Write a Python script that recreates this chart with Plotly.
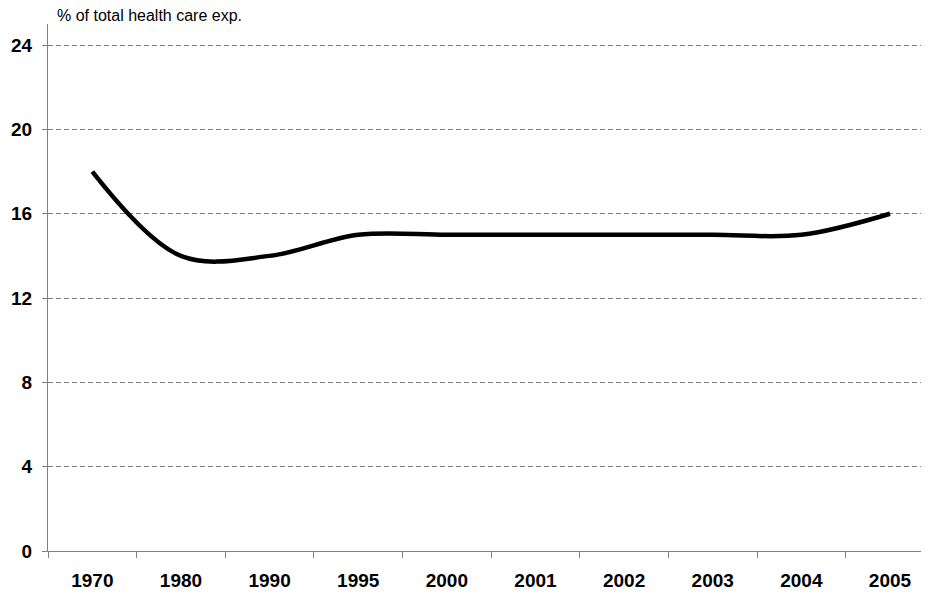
import plotly.graph_objects as go

years = ["1970", "1980", "1990", "1995", "2000", "2001", "2002", "2003", "2004", "2005"]
share = [18, 14, 14, 15, 15, 15, 15, 15, 15, 16]
y_ticks = [0, 4, 8, 12, 16, 20, 24]
y_title = "% of total health care exp."

FONT = "Arial, Liberation Sans, sans-serif"

fig = go.Figure()
fig.add_trace(go.Scatter(
    x=years, y=share, mode="lines",
    line=dict(color="black", width=4.5, shape="spline", smoothing=1),
    hoverinfo="x+y", showlegend=False,
))

# page body has an 8px default margin; margins compensate for it
fig.update_layout(
    width=929, height=594,
    margin=dict(l=40, r=8, t=16, b=51, autoexpand=False),
    paper_bgcolor="white", plot_bgcolor="white",
    font=dict(family=FONT, color="black"),
    xaxis=dict(
        type="category", range=[-0.5, 9.44], tickson="boundaries",
        ticks="outside", ticklen=6, tickcolor="#808080",
        showline=True, linecolor="#808080", linewidth=1,
        showgrid=False, zeroline=False, ticklabelstandoff=12, automargin=False,
        tickfont=dict(family=FONT, size=19, color="black", weight="bold"),
    ),
    yaxis=dict(
        range=[0, 25], tickvals=y_ticks,
        ticks="outside", ticklen=5, tickcolor="#808080",
        showline=True, linecolor="#808080", linewidth=1,
        showgrid=True, gridcolor="#808080", gridwidth=1, griddash="5px,3px",
        zeroline=False, ticklabelstandoff=6, automargin=False,
        tickfont=dict(family=FONT, size=19, color="black", weight="bold"),
    ),
    annotations=[dict(
        text=y_title, xref="paper", yref="paper", x=0, y=1,
        xshift=7, yshift=9, xanchor="left", yanchor="middle", showarrow=False,
        font=dict(family=FONT, size=16, color="black"),
    )],
)

fig.write_html("out.html")
